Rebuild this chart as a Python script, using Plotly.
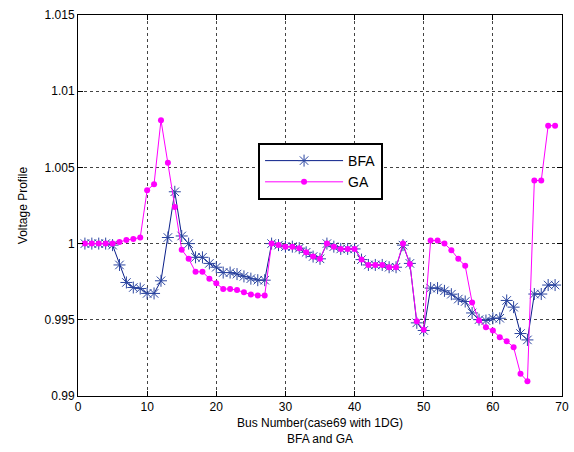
import plotly.graph_objects as go

bus = list(range(1, 70))

bfa = [1.0000, 1.0000, 1.0000, 1.0000, 0.9999, 0.9986, 0.99745, 0.99712, 0.99705, 0.99673,
       0.99673, 0.99756, 1.0004, 1.0034, 1.0005, 1.0000, 0.9991, 0.9991, 0.9987, 0.99845,
       0.9981, 0.9981, 0.9980, 0.99785, 0.9977, 0.9976, 0.9976, 1.0000, 0.9999, 0.9998,
       0.9998, 0.9997, 0.99943, 0.99915, 0.9990, 1.0000, 0.9998, 0.99965, 0.99965, 0.99965,
       0.99895, 0.9986, 0.9986, 0.9986, 0.99845, 0.99845, 0.9999, 0.9987, 0.9948, 0.9943,
       0.99708, 0.99708, 0.9969, 0.99668, 0.99636, 0.9962, 0.99545, 0.99501, 0.99495, 0.9951,
       0.9951, 0.99627, 0.99583, 0.9941, 0.99368, 0.99669, 0.99669, 0.99728, 0.99728]

ga = [1.0000, 1.0000, 1.0000, 1.0000, 1.0000, 1.0001, 1.00024, 1.0003, 1.0004, 1.0035,
      1.0039, 1.0081, 1.0053, 1.0024, 0.9996, 0.9990, 0.99815, 0.99815, 0.9977, 0.9974,
      0.99702, 0.99702, 0.99695, 0.9968, 0.99666, 0.9966, 0.9966, 1.0000, 0.9999, 0.9998,
      0.9998, 0.9997, 0.99943, 0.99915, 0.9990, 1.0000, 0.9998, 0.99965, 0.99965, 0.99965,
      0.99895, 0.9986, 0.9986, 0.9986, 0.99845, 0.99845, 1.0000, 0.99866, 0.9949, 0.99434,
      1.0002, 1.0002, 1.0000, 0.99957, 0.9990, 0.99854, 0.99614, 0.99495, 0.99451, 0.99429,
      0.99386, 0.9936, 0.9932, 0.99146, 0.99097, 1.00414, 1.00414, 1.00774, 1.00774]

x_ticks = [0, 10, 20, 30, 40, 50, 60, 70]
y_ticks = [0.99, 0.995, 1.0, 1.005, 1.01, 1.015]
y_labels = ["0.99", "0.995", "1", "1.005", "1.01", "1.015"]

FONT = "Liberation Sans, Arial"

fig = go.Figure()
fig.add_trace(go.Scatter(
    x=bus, y=bfa, name="BFA", mode="lines+markers",
    line=dict(color="#0a1f8a", width=1),
    marker=dict(symbol="asterisk-open", size=10, color="#2b45a0",
                line=dict(color="#2b45a0", width=1)),
))
fig.add_trace(go.Scatter(
    x=bus, y=ga, name="GA", mode="lines+markers",
    line=dict(color="#ff00ff", width=1),
    marker=dict(symbol="circle", size=6, color="#ff00ff"),
))

axis_common = dict(
    showline=True, linecolor="black", linewidth=1, mirror="ticks",
    ticks="inside", ticklen=5, tickcolor="black",
    showgrid=True, gridcolor="#444444", griddash="dot", gridwidth=1,
    zeroline=False, automargin=False,
    tickfont=dict(family=FONT, size=12, color="black"),
)

fig.update_xaxes(range=[0, 70], tickvals=x_ticks,
                 title=dict(text="Bus Number(case69 with 1DG)<br>BFA and GA",
                            font=dict(family=FONT, size=12, color="black"),
                            standoff=5),
                 **axis_common)
fig.update_yaxes(range=[0.99, 1.015], tickvals=y_ticks, ticktext=y_labels,
                 title=dict(text="Voltage Profile",
                            font=dict(family=FONT, size=12, color="black"),
                            standoff=14),
                 **axis_common)

fig.update_layout(
    width=574, height=452,
    margin=dict(l=78, r=12, t=15, b=56),
    paper_bgcolor="white", plot_bgcolor="white",
    showlegend=True,
    legend=dict(x=0.372, y=0.664, xanchor="left", yanchor="top",
                bgcolor="white", bordercolor="black", borderwidth=2,
                font=dict(family=FONT, size=14, color="black"),
                itemwidth=78, tracegroupgap=0),
    font=dict(family=FONT, size=12, color="black"),
)

fig.write_html("out.html")
